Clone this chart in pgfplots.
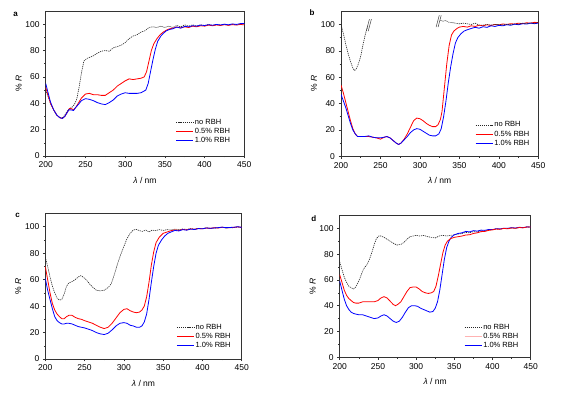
\documentclass[border=0pt]{standalone}
\usepackage{fontspec}
\setmainfont{Liberation Sans}
\usepackage{pgfplots}
\pgfplotsset{compat=1.18}
\pgfplotsset{
  panel/.style={
    scale only axis,
    xmin=200, xmax=450, ymin=0, ymax=110,
    xtick={200,250,...,450}, ytick={0,20,...,100},
    minor x tick num=1, minor y tick num=1,
    tick pos=left, tick align=outside,
    major tick length=2.5pt, minor tick length=1.5pt,
    axis line style={line width=0.6pt, black!80},
    every tick/.style={black!80, line width=0.5pt},
    tick label style={font=\fontsize{8.5}{9}\selectfont},
    label style={font=\fontsize{8.5}{10}\selectfont},
    xlabel={\textit{λ} / nm}, ylabel={\% \textit{R}},
    xlabel style={yshift=-2.5pt}, ylabel style={yshift=-3pt},
    /pgf/number format/assume math mode=true,
    legend cell align=left,
    legend style={draw=none, fill=none, font=\fontsize{7.5}{8}\selectfont,
      nodes={inner sep=1.2pt}, anchor=south east},
    legend image code/.code={\draw[#1, line width=1.1pt] (0pt,0pt) -- (17pt,0pt);},
  },
  nor/.style={black!85, line width=0.6pt, dash pattern=on 1.2pt off 0.9pt},
  rr/.style={red, line width=0.8pt},
  bb/.style={blue, line width=0.8pt},
}
\begin{document}
\begin{tikzpicture}
\path[use as bounding box] (0pt,0pt) rectangle (564pt,393pt);

% ---------------- panel a ----------------
\begin{axis}[panel, at={(45.7pt,237pt)}, anchor=south west, width=198.6pt, height=145pt,
  legend style={at={(0.95,0.06)}}]
\addplot[nor] coordinates {(200,50)(203,45)(206,40)(210,35)(214,31)(218,29)(221,29)(224,31)(227,34)(230,36)(233,37)(236,39)(239,43)(242,52)(245,63)(248,72)(252,74)(256,75)(260,76)(265,78)(270,79.5)(275,80)(280,79.5)(285,82)(290,83)(295,84)(300,86)(305,89)(310,91)(315,92)(320,94)(325,95)(330,97.5)(335,98)(340,97.5)(345,98.5)(350,97.5)(355,98.5)(360,97.5)(365,99)(370,98)(375,99.5)(380,98.5)(385,99.5)(390,98.5)(395,99.5)(400,99)(405,99.8)(410,99)(415,99.8)(420,99.3)(425,100)(430,99.3)(435,100)(440,99.6)(445,100.3)(450,100.5)};
\addlegendentry{no RBH}
\addplot[rr] coordinates {(200,52)(203,46)(206,40)(210,35)(214,31)(218,29)(221,28.5)(224,30)(227,33)(230,36)(232,36)(235,35)(238,37)(241,40)(245,44)(250,47)(255,47.5)(260,46.5)(265,46.5)(270,46)(275,46)(280,48)(285,50)(290,53)(295,55)(300,57)(305,58.5)(310,58)(315,58.5)(320,59)(324,60)(327,64)(330,72)(333,80)(336,85)(340,89)(344,92)(348,94)(352,95.5)(356,96.5)(360,97)(365,97.8)(370,97.2)(375,98)(380,97.5)(385,98.5)(390,98)(395,98.8)(400,98.5)(405,99.3)(410,98.8)(415,99.4)(420,99)(425,99.6)(430,99.1)(435,99.7)(440,99.3)(445,99.8)(450,99.5)};
\addlegendentry{0.5\% RBH}
\addplot[bb] coordinates {(200,55)(203,48)(206,41)(210,35)(214,31)(218,29)(221,28.5)(224,30)(227,33)(229,35)(232,35)(235,34.5)(238,37)(241,39)(245,42)(250,43.5)(255,43)(260,42)(265,40.5)(270,39.5)(275,39)(280,40.5)(285,42.5)(290,45.5)(295,47)(300,48)(305,47.5)(310,47.5)(315,47.5)(320,48)(326,50)(329,55)(332,64)(335,73)(338,81)(341,87)(345,91)(348,93)(352,95)(356,96)(360,96.5)(365,97.8)(370,97)(375,98.3)(380,98)(385,98.8)(390,98.5)(395,99.3)(400,99)(405,99.6)(410,99.2)(415,99.8)(420,99.4)(425,100)(430,99.5)(435,100.2)(440,99.8)(445,100.4)(450,100.5)};
\addlegendentry{1.0\% RBH}
\end{axis}
\node[font=\bfseries\fontsize{8}{9}\selectfont] at (15.7pt,378.7pt) {a};

% ---------------- panel b ----------------
\begin{axis}[panel, at={(341pt,236.7pt)}, anchor=south west, width=197.3pt, height=145pt,
  legend style={at={(0.977,0.043)}}]
\addplot[nor] coordinates {(200,100)(203,93)(206,85)(209,78)(212,72)(215,67)(217,65)(219,66)(222,70)(225,76)(228,85)(231,93)(234,99)};
\addlegendentry{no RBH}
\addplot[rr] coordinates {(200,54)(203,48)(206,41)(209,34)(212,27)(215,21)(218,17)(221,15)(225,15)(230,15)(235,15)(240,14.5)(245,14)(250,13)(255,14.5)(258,15)(262,14)(266,12)(270,10)(273,9)(276,10)(280,13)(284,17)(288,22)(292,27)(296,29)(300,28.5)(304,27)(308,25)(312,23.5)(316,22.5)(320,22.5)(323,24)(326,28)(328,34)(331,52)(334,70)(337,84)(340,92)(343,95)(347,97)(350,98)(355,98.5)(360,98)(365,99)(370,98.5)(375,99.5)(380,99)(385,99.8)(390,99.2)(395,100)(400,99.6)(405,100.4)(410,100)(415,100.6)(420,100.3)(425,101)(430,100.6)(435,101.3)(440,101)(445,101.6)(450,101.5)};
\addlegendentry{0.5\% RBH}
\addplot[bb] coordinates {(200,47)(203,42)(206,37)(209,31)(212,25)(215,20)(218,17)(221,15)(225,15)(230,15)(235,15.5)(240,14.5)(245,14)(250,14)(255,14.5)(258,15)(262,14)(266,12)(270,10)(273,9)(276,10)(280,12.5)(284,15)(288,18)(292,20)(296,21)(300,20.5)(304,19)(308,17.5)(312,16)(316,15.5)(320,15.5)(324,17)(327,21)(330,30)(333,42)(336,56)(339,68)(342,78)(345,86)(348,90)(352,93)(356,95)(360,96)(365,97)(370,97.8)(375,97.2)(380,98.3)(385,97.8)(390,99)(395,98.5)(400,99.3)(405,99)(410,99.8)(415,99.4)(420,100.2)(425,99.8)(430,100.6)(435,100.3)(440,101)(445,100.6)(450,101)};
\addlegendentry{1.0\% RBH}
\addplot[nor, forget plot] coordinates {(326,103)(330,102.5)(333,103)(336,101.8)(340,101.5)(345,101)(350,100.5)(355,101)(360,100.5)(365,100)(370,101)(375,99.5)(380,99.5)(385,100)(390,99.5)(395,100)(400,100)(405,99.6)(410,100.2)(415,99.8)(420,100.5)(425,100.2)(430,101)(435,100.6)(440,101.2)(445,100.8)(450,101.5)};
\draw[black!75, line width=0.5pt] (axis cs:232,95) -- (axis cs:236,104) (axis cs:234.5,95) -- (axis cs:238.5,104);
\draw[black!75, line width=0.5pt] (axis cs:320.5,98) -- (axis cs:324.5,107) (axis cs:323,98) -- (axis cs:327,107);
\end{axis}
\node[font=\bfseries\fontsize{8}{9}\selectfont] at (312pt,380.3pt) {b};

% ---------------- panel c ----------------
\begin{axis}[panel, at={(45.3pt,34pt)}, anchor=south west, width=196.4pt, height=145.5pt,
  legend style={at={(0.966,0.045)}}]
\addplot[nor] coordinates {(200,77)(203,70)(206,62)(209,55)(212,50)(215,46)(218,44.5)(221,45)(224,49)(227,55)(230,57.5)(234,58.5)(238,60)(242,62)(245,63)(248,62)(252,60)(256,57)(260,54.5)(265,52)(270,51.5)(275,52)(280,54)(284,57)(288,64)(292,72)(296,79)(300,85)(304,91)(308,95)(312,97.5)(316,98)(320,97)(324,96.5)(328,97.5)(332,96)(336,97.5)(340,97)(345,97.8)(350,97.2)(355,97.8)(360,97.5)(365,98.2)(370,97.8)(375,98.3)(380,98)(385,98.6)(390,98.2)(395,98.8)(400,98.5)(405,99.2)(410,98.8)(420,99.2)(425,99.6)(430,99)(440,99.3)(445,99.8)(450,99.5)};
\addlegendentry{no RBH}
\addplot[rr] coordinates {(200,70)(203,60)(206,50)(209,42)(212,37)(215,34)(218,32)(221,30.5)(224,30.5)(227,32)(230,33)(234,33)(238,31.5)(242,30.5)(246,30)(250,29)(255,28)(260,27)(265,25.5)(270,24)(275,23)(280,24)(285,27)(290,31)(295,35)(300,37.5)(304,38)(308,36.5)(312,35.5)(316,35)(320,35.5)(323,37)(326,40)(329,47)(332,58)(335,71)(338,81)(341,88)(345,92)(350,95)(355,96)(360,97)(365,97.6)(370,97.2)(375,98)(380,97.6)(385,98.4)(390,98)(395,98.7)(400,98.4)(405,99)(410,98.7)(415,99.3)(420,99)(425,99.6)(430,99.2)(440,99.5)(445,99.9)(450,99.5)};
\addlegendentry{0.5\% RBH}
\addplot[bb] coordinates {(200,61)(203,52)(206,45)(209,38)(212,32)(215,29)(218,27.5)(221,26.5)(224,26.5)(227,27)(230,27)(234,26.5)(238,25.5)(242,24.5)(246,24)(250,23.5)(255,22.5)(260,21.5)(265,20)(270,19)(275,18.5)(280,19.5)(285,22)(290,25)(295,27)(300,27.5)(304,27)(308,25.5)(312,25)(316,24)(320,24)(323,25)(326,28)(329,34)(332,45)(335,58)(338,70)(341,80)(344,86)(348,90)(352,93)(356,95)(360,96)(365,97.2)(370,96.8)(375,97.8)(380,97.4)(385,98.2)(390,97.9)(395,98.6)(400,98.4)(405,99.1)(410,98.8)(420,99.3)(425,99.7)(430,99.3)(440,99.6)(445,100)(450,99.5)};
\addlegendentry{1.0\% RBH}
\end{axis}
\node[font=\bfseries\fontsize{8}{9}\selectfont] at (17.7pt,178pt) {c};

% ---------------- panel d ----------------
\begin{axis}[panel, at={(339.7pt,35.7pt)}, anchor=south west, width=191pt, height=141.9pt,
  legend style={at={(0.958,0.034)}}]
\addplot[nor] coordinates {(200,74)(203,68)(206,62)(209,58)(212,55)(215,54)(218,53)(221,54.5)(224,58)(227,62)(230,67)(233,70)(236,72)(239,76)(242,81)(245,87)(248,92)(251,94)(254,94)(258,93)(262,91.5)(266,90)(270,88.5)(275,87)(280,87.5)(284,89)(288,91.5)(292,93.5)(296,94)(300,94.5)(305,94)(310,94.5)(315,93.5)(320,93)(325,92.5)(330,94)(335,94.5)(340,94)(345,94.5)(350,95)(355,95.5)(360,96)(365,96.8)(370,96.5)(375,97.4)(380,97.2)(385,98)(390,98)(395,98.7)(400,99)(405,99.6)(410,99.3)(415,100)(420,99.8)(425,100.3)(430,100)(435,100.6)(440,100.4)(445,101)(450,101)};
\addlegendentry{no RBH}
\addlegendimage{red!30}
\addlegendentry{0.5\% RBH}
\addplot[bb] coordinates {(200,59)(203,52)(206,45)(209,40)(212,37)(215,35)(218,34)(221,33.5)(225,33)(230,33)(235,32)(240,31)(245,30)(250,30.5)(254,32)(258,33)(262,32)(266,30)(270,28)(274,27)(278,28)(282,31)(286,35)(290,38.5)(294,40)(298,40)(302,39.5)(306,38)(310,37)(314,36)(318,35)(322,35.5)(325,38)(328,43)(331,52)(334,64)(337,76)(340,85)(343,90)(346,93)(350,95)(355,96)(360,96.5)(365,97.6)(370,97.2)(375,98.2)(380,97.8)(385,98.6)(390,98.4)(395,99.1)(400,99)(405,99.7)(410,99.5)(415,100.1)(420,100)(425,100.5)(430,100.2)(435,100.8)(440,100.5)(445,101.1)(450,101)};
\addlegendentry{1.0\% RBH}
\addplot[rr, forget plot] coordinates {(200,64)(203,58)(206,52)(209,48)(212,45.5)(215,44)(218,42.5)(221,42)(225,42)(230,43)(235,43)(240,43)(245,43)(250,44)(254,46)(258,47)(262,46)(266,43.5)(270,41)(273,40)(276,41)(280,43)(284,47)(288,51)(292,54)(296,54.5)(300,54.5)(304,53)(308,51)(312,50)(316,49.5)(320,50)(323,51)(326,55)(329,63)(332,72)(335,81)(338,87)(341,90)(345,92)(350,93)(355,93.5)(360,94)(365,94.8)(370,95)(375,96)(380,96.5)(385,97.4)(390,97.6)(395,98.4)(400,98.8)(405,99.4)(410,99.3)(415,99.9)(420,99.6)(425,100.3)(430,100)(435,100.6)(440,100.4)(445,101)(450,101)};
\end{axis}
\node[font=\bfseries\fontsize{8}{9}\selectfont] at (313.7pt,174.7pt) {d};
\end{tikzpicture}
\end{document}
